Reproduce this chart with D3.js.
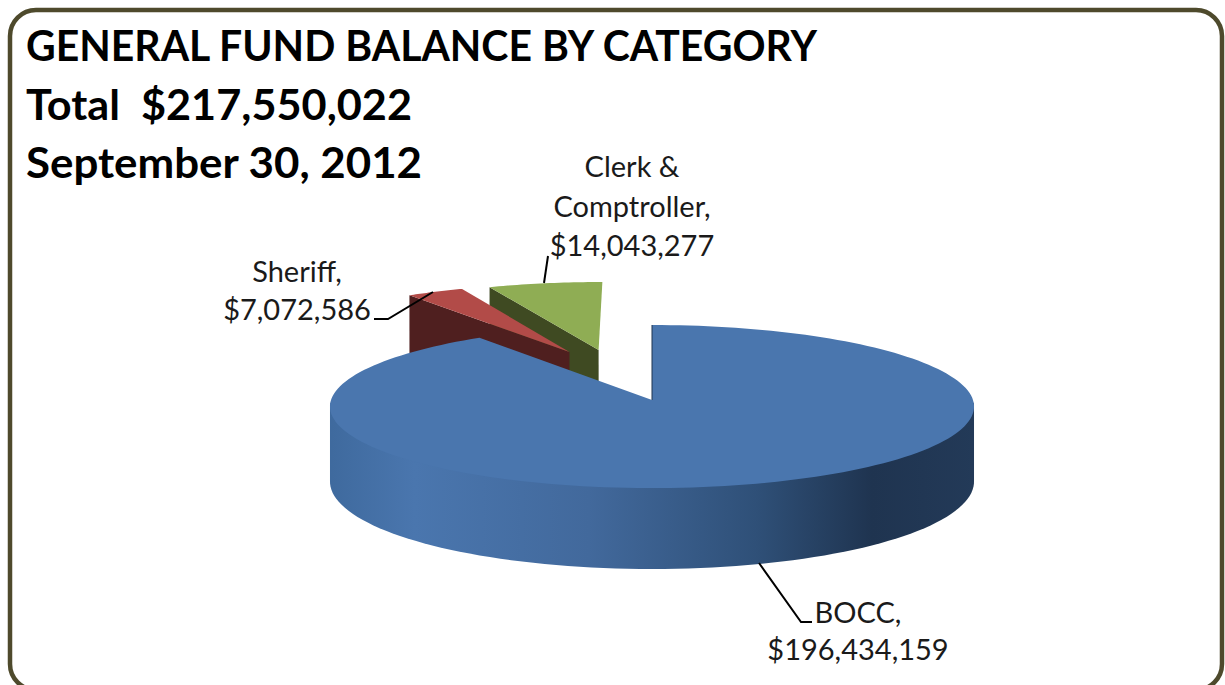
<!DOCTYPE html>
<html>
<head>
<meta charset="utf-8">
<script src="https://cdnjs.cloudflare.com/ajax/libs/d3/7.8.5/d3.min.js"></script>
<style>
html,body{margin:0;padding:0;background:#fff;overflow:hidden}
svg{display:block}
text{font-family:Lato,"Open Sans",sans-serif}
</style>
</head>
<body>
<svg id="chart" width="1225" height="685"></svg>
<script>
// General fund balance by category
const categories = ["BOCC", "Sheriff", "Clerk & Comptroller"];
const balances = [196434159, 7072586, 14043277];
const titleLines = ["GENERAL FUND BALANCE BY CATEGORY", "Total  $217,550,022", "September 30, 2012"];

const topColors = ["#4a76ae", "#b24b48", "#8fad54"];
const wallColors = ["#1f3450", "#4f1f1f", "#3f4a22"];

// Slices pulled away from the pie, in units of the radius on the ground plane
const pullOut = [[0, 0], [-0.27, 0.622], [-0.175, 0.649]];

// Ground plane seen in perspective
const cx = 652, cy = 400, radiusX = 321, radiusY = 81, tilt = 0.08, depth = 74.5;

function project(X, Y) {
  const s = 1 / (1 + tilt * Y);
  return { x: cx + radiusX * X * s, y: cy - radiusY * Y * s, s };
}
function rimPoint(angle, offset) {
  return project(offset[0] + Math.sin(angle), offset[1] + Math.cos(angle));
}
const toPath = d3.line().x(d => d.x).y(d => d.y);
const drop = p => ({ x: p.x, y: p.y + depth * p.s });

const svg = d3.select("#chart");

// Panel outline
svg.append("rect")
  .attr("x", 10).attr("y", 10).attr("width", 1212).attr("height", 680)
  .attr("rx", 26).attr("ry", 26)
  .attr("fill", "#fff").attr("stroke", "#4e4a2c").attr("stroke-width", 4.5);

// Title block
svg.selectAll("text.title").data(titleLines).join("text")
  .attr("class", "title")
  .attr("x", 26)
  .attr("y", (d, i) => 61 + i * 58.5)
  .attr("font-size", 42)
  .attr("font-weight", 700)
  .attr("fill", "#000")
  .attr("textLength", (d, i) => [791, 386, 396][i])
  .attr("lengthAdjust", "spacingAndGlyphs")
  .attr("xml:space", "preserve")
  .style("white-space", "pre")
  .text(d => d);

const slices = d3.pie().sort(null).startAngle(0).endAngle(2 * Math.PI)(balances);

// Rim shading along the front of the main slice
const rimStops = [
  [0, "#3f6a9e"], [0.13, "#4a76ae"], [0.4, "#42699c"],
  [0.66, "#2f5078"], [0.84, "#1f3450"], [1, "#233a58"]
];
const grad = svg.append("defs").append("linearGradient")
  .attr("id", "rim").attr("gradientUnits", "userSpaceOnUse")
  .attr("x1", 331).attr("x2", 975).attr("y1", 0).attr("y2", 0);
grad.selectAll("stop").data(rimStops).join("stop")
  .attr("offset", d => d[0]).attr("stop-color", d => d[1]);

// Draw the pulled-out wedges first: the main slice sits in front of them
function drawWedge(i) {
  const sl = slices[i], off = pullOut[i];
  const apex = project(off[0], off[1]);
  const n = 24;
  const arc = d3.range(n + 1).map(k => rimPoint(sl.startAngle + (sl.endAngle - sl.startAngle) * k / n, off));
  const tip = arc[0];
  // cut face running from the outer corner in to the apex
  svg.append("path")
    .attr("d", toPath([tip, apex, drop(apex), drop(tip)]) + "Z")
    .attr("fill", wallColors[i]);
  svg.append("path")
    .attr("d", toPath([apex, ...arc]) + "Z")
    .attr("fill", topColors[i]);
}
drawWedge(2);
drawWedge(1);

// Main slice: rim as the hull of the front edge and its dropped copy, then top face
const main = slices[0];
const frontAngles = d3.range(92, 269, 2).map(a => a * Math.PI / 180);
const frontTop = frontAngles.map(a => rimPoint(a, pullOut[0]));
const rimHull = d3.polygonHull([...frontTop, ...frontTop.map(drop)].map(p => [p.x, p.y]));
svg.append("path")
  .attr("d", d3.line()(rimHull) + "Z")
  .attr("fill", "url(#rim)");

const center = project(0, 0);
const mainArc = d3.range(0, 181).map(k => rimPoint(main.startAngle + (main.endAngle - main.startAngle) * k / 180, pullOut[0]));
svg.append("path")
  .attr("d", toPath([center, ...mainArc]) + "Z")
  .attr("fill", topColors[0]);
svg.append("path")
  .attr("d", toPath([mainArc[0], center]))
  .attr("stroke", wallColors[0]).attr("stroke-width", 1).attr("fill", "none");

// Leader lines
const leaders = [
  [[759, 563], [801, 622], [812, 622]],
  [[433, 292], [388, 319], [374, 319]],
  [[544, 283], [548, 256]]
];
svg.selectAll("path.leader").data(leaders).join("path")
  .attr("class", "leader")
  .attr("d", d3.line())
  .attr("fill", "none").attr("stroke", "#000").attr("stroke-width", 2);

// Data labels
const money = d3.format("$,");
const labelLines = [
  [`${categories[0]},`, money(balances[0])],
  [`${categories[1]},`, money(balances[1])],
  ["Clerk &", "Comptroller,", money(balances[2])]
];
const labelAnchors = [
  { x: 858, y: 623, step: 37 },
  { x: 297, y: 282, step: 37.5 },
  { x: 632, y: 177, step: 39.5 }
];
labelLines.forEach((lines, i) => {
  const a = labelAnchors[i];
  svg.selectAll(null).data(lines).join("text")
    .attr("x", a.x)
    .attr("y", (d, k) => a.y + k * a.step)
    .attr("text-anchor", "middle")
    .attr("font-size", 29)
    .attr("fill", "#1a1a1a")
    .text(d => d);
});
</script>
</body>
</html>
